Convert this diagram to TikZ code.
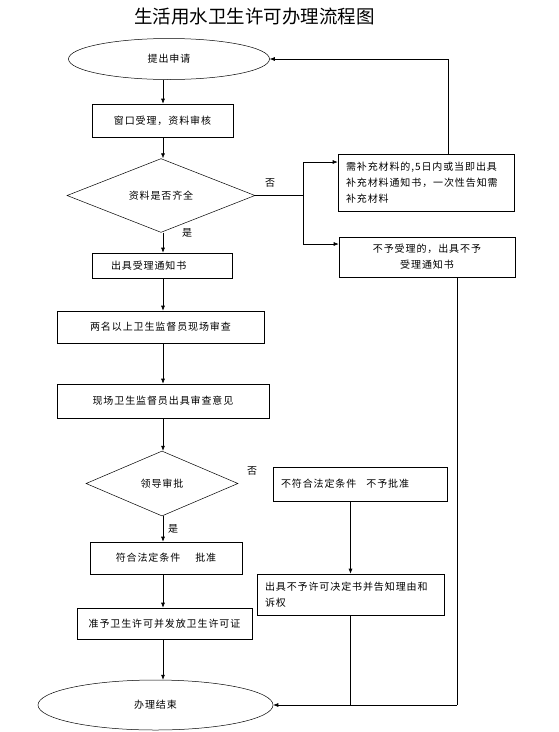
\documentclass[tikz,border=0pt]{standalone}
\usepackage{fontspec}
\setmainfont{Noto Sans CJK SC}
\newfontfamily\boxfont[LetterSpace=9]{Noto Sans CJK SC}
\usetikzlibrary{shapes.geometric,arrows.meta}
\begin{document}
\begin{tikzpicture}[x=1pt,y=-1pt,
  every node/.style={inner sep=0pt,font=\boxfont\fontsize{10}{16}\selectfont},
  box/.style={draw,line width=0.6pt,rectangle},
  oval/.style={draw,line width=0.5pt,ellipse},
  decide/.style={draw,line width=0.5pt,diamond},
  flow/.style={line width=0.6pt,-{Latex[length=5pt,width=4pt]}},
  wire/.style={line width=0.6pt}]
\useasboundingbox (0,0) rectangle (559,732);
\node [font=\fontsize{18.5}{20}\selectfont] (title) at (254.5,17) {生活用水卫生许可办理流程图};
% main column
\coordinate (col) at (163,0);
\node [oval,minimum width=201pt,minimum height=41pt] (start) at (169,59) {提出申请};
\node [box,minimum width=141pt,minimum height=33pt] (check) at (162.5,120.5) {窗口受理，资料审核};
\node [decide,minimum width=188pt,minimum height=49pt] (complete) at (161,195.5) {资料是否齐全};
\node [box,minimum width=140pt,minimum height=25pt,text width=102pt,align=left] (notice) at (162,265.5) {出具受理通知书};
\node [box,minimum width=207pt,minimum height=32pt] (inspect) at (160.5,327) {两名以上卫生监督员现场审查};
\node [box,minimum width=212pt,minimum height=34pt] (opinion) at (163,401) {现场卫生监督员出具审查意见};
\node [decide,minimum width=152pt,minimum height=65pt] (leader) at (162,483.5) {领导审批};
\node [box,minimum width=152pt,minimum height=32pt] (approve) at (166,558) {符合法定条件\hspace{1.5em}批准};
\node [box,minimum width=175pt,minimum height=31pt] (issue) at (164.5,623.5) {准予卫生许可并发放卫生许可证};
\node [oval,minimum width=235pt,minimum height=50pt] (end) at (155.5,705) {办理结束};
% right side
\node [box,minimum width=176pt,minimum height=57pt,text width=160pt,align=left] (supply) at (426,182.5) {需补充材料的,5日内或当即出具\\补充材料通知书，一次性告知需\\补充材料};
\node [box,minimum width=176pt,minimum height=40pt,align=center] (refuse) at (427,257) {不予受理的，出具不予\\受理通知书};
\node [box,minimum width=174pt,minimum height=34pt,text width=158pt,align=left] (deny) at (360,484) {不符合法定条件\hspace{1em}不予批准};
\node [box,minimum width=187pt,minimum height=41pt,text width=171pt,align=left] (letter) at (350.5,594.5) {出具不予许可决定书并告知理由和\\诉权};
% labels
\node (no1) at (270,183) {否};
\node (yes1) at (187,233) {是};
\node (no2) at (252,471) {否};
\node (yes2) at (173,529) {是};
% connectors
\draw [flow] (start.south -| col) -- (check.north -| col);
\draw [flow] (check.south -| col) -- (complete.north -| col);
\draw [flow] (complete.south -| col) -- (notice.north -| col);
\draw [flow] (notice.south -| col) -- (inspect.north -| col);
\draw [flow] (inspect.south -| col) -- (opinion.north -| col);
\draw [flow] (opinion.south -| col) -- (leader.north -| col);
\draw [flow] (leader.south -| col) -- (approve.north -| col);
\draw [flow] (approve.south -| col) -- (issue.north -| col);
\draw [flow] (issue.south -| col) -- (end.north -| col);
\coordinate (split) at (303,195.5);
\coordinate (fork1) at (303,162);
\coordinate (fork2) at (303,244);
\draw [wire] (complete.east) -- (split);
\draw [flow] (fork2) -- (fork1) -- (fork1 -| supply.west);
\draw [flow] (fork1) -- (fork2) -- (fork2 -| refuse.west);
\coordinate (back) at (448,59);
\draw [flow] (supply.north -| back) -- (back) -- (start.east);
\draw [flow] (deny.south -| letter.north) -- (letter.north);
\coordinate (merge) at (457,705);
\draw [wire] (letter.south) -- (letter.south |- merge);
\draw [wire] (refuse.south -| merge) -- (merge);
\draw [flow] (merge) -- (end.east);
\end{tikzpicture}
\end{document}
